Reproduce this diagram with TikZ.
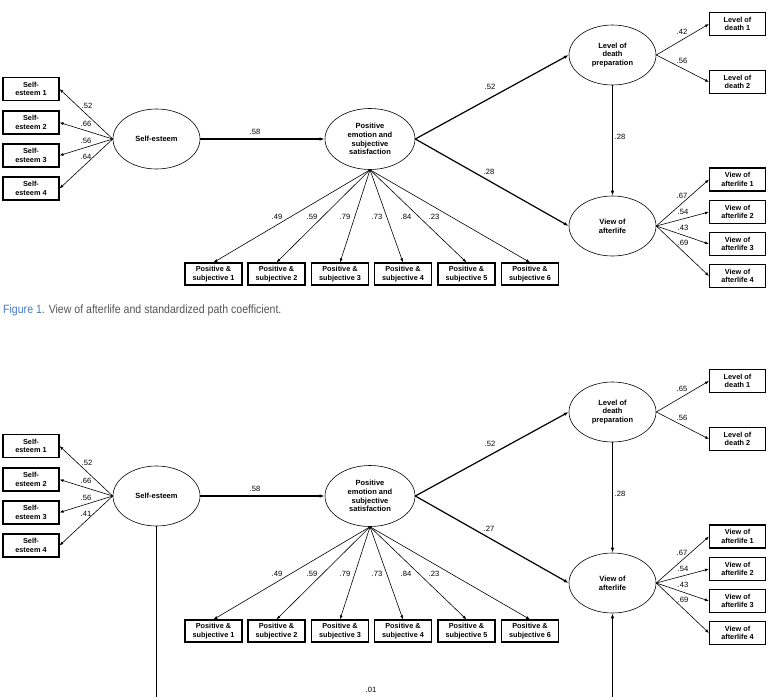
\documentclass[tikz,border=0pt]{standalone}
\usepackage{fontspec}
\setmainfont{Liberation Sans}
\usetikzlibrary{shapes.geometric,arrows.meta}
\definecolor{capblue}{HTML}{4A7DC4}
\definecolor{capgray}{HTML}{555555}
\tikzset{
 obs/.style={draw, line width=1.1pt, minimum width=56pt, minimum height=23pt, inner sep=0pt, align=center, font=\fontsize{7.3}{8.3}\selectfont\bfseries},
 lat/.style={draw, ellipse, line width=0.6pt, minimum width=87pt, minimum height=60pt, inner sep=0pt, align=center, font=\fontsize{7.5}{8.7}\selectfont\bfseries},
 thinarr/.style={-{Latex[length=4pt,width=3pt]}, line width=0.6pt},
 thickarr/.style={-{Latex[length=5pt,width=3.5pt]}, line width=1.2pt},
 thickline/.style={line width=1.2pt},
 coef/.style={font=\fontsize{7.6}{8.6}\selectfont, inner sep=0pt},
}
\newcommand\semfig[5]{%
\begin{scope}[shift={(0,#2)}]
 % latent variables
 \node[lat] (#1se) at (156.5,139) {Self-esteem};
 \node[lat, minimum width=90pt, minimum height=61pt] (#1pes) at (370,139) {Positive\\emotion and\\subjective\\satisfaction};
 \node[lat] (#1ldp) at (612.5,55) {Level of\\death\\preparation};
 \node[lat] (#1va) at (612.5,226) {View of\\afterlife};
 % self-esteem indicators
 \node[obs] (#1s1) at (31,89) {Self-\\esteem 1};
 \node[obs] (#1s2) at (31,122.5) {Self-\\esteem 2};
 \node[obs] (#1s3) at (31,155.5) {Self-\\esteem 3};
 \node[obs] (#1s4) at (31,188.5) {Self-\\esteem 4};
 % death indicators
 \node[obs] (#1d1) at (737.5,24) {Level of\\death 1};
 \node[obs] (#1d2) at (737.5,82) {Level of\\death 2};
 % afterlife indicators
 \node[obs] (#1v1) at (737.5,179.5) {View of\\afterlife 1};
 \node[obs] (#1v2) at (737.5,212) {View of\\afterlife 2};
 \node[obs] (#1v3) at (737.5,244) {View of\\afterlife 3};
 \node[obs] (#1v4) at (737.5,276) {View of\\afterlife 4};
 % positive indicators
 \node[obs, minimum width=57pt, minimum height=22pt] (#1p1) at (213.5,274) {Positive \&\\subjective 1};
 \node[obs, minimum width=57pt, minimum height=22pt] (#1p2) at (276.5,274) {Positive \&\\subjective 2};
 \node[obs, minimum width=57pt, minimum height=22pt] (#1p3) at (340,274) {Positive \&\\subjective 3};
 \node[obs, minimum width=57pt, minimum height=22pt] (#1p4) at (403,274) {Positive \&\\subjective 4};
 \node[obs, minimum width=57pt, minimum height=22pt] (#1p5) at (466.5,274) {Positive \&\\subjective 5};
 \node[obs, minimum width=57pt, minimum height=22pt] (#1p6) at (530,274) {Positive \&\\subjective 6};
 % connectors
 \foreach \i in {1,2,3,4} \draw[thinarr] (#1se.west) -- (#1s\i.east);
 \foreach \i in {1,2,3,4,5,6} \draw[thinarr] (#1pes.south) -- (#1p\i.north);
 \foreach \i in {1,2} \draw[thinarr] (#1ldp.east) -- (#1d\i.west);
 \foreach \i in {1,2,3,4} \draw[thinarr] (#1va.east) -- (#1v\i.west);
 \draw[thickarr] (#1se.east) -- (#1pes.west);
 \draw[thickarr] (#1pes.east) -- (#1ldp.west);
 \draw[thickarr] (#1pes.east) -- (#1va.west);
 \draw[thickarr] (#1ldp.south) -- (#1va.north);
 % coefficients
 \node[coef] (#1c1) at (87,106) {.52};
 \node[coef] (#1c2) at (86,124) {.66};
 \node[coef] (#1c3) at (86,141) {.56};
 \node[coef] (#1c4) at (86,157) {#3};
 \node[coef] (#1c5) at (255,132) {.58};
 \node[coef] (#1c6) at (490,87) {.52};
 \node[coef] (#1c7) at (489,172) {#5};
 \node[coef] (#1c8) at (620,137) {.28};
 \node[coef] (#1c9) at (682,32) {#4};
 \node[coef] (#1c10) at (682,61) {.56};
 \node[coef] (#1c11) at (682,196) {.67};
 \node[coef] (#1c12) at (683,212) {.54};
 \node[coef] (#1c13) at (683,228) {.43};
 \node[coef] (#1c14) at (683,243) {.69};
 \node[coef] (#1c15) at (277,217) {.49};
 \node[coef] (#1c16) at (312,217) {.59};
 \node[coef] (#1c17) at (345,217) {.79};
 \node[coef] (#1c18) at (377,217) {.73};
 \node[coef] (#1c19) at (406,217) {.84};
 \node[coef] (#1c20) at (434,217) {.23};
\end{scope}}
\begin{document}
\begin{tikzpicture}[x=1pt,y=-1pt]
\useasboundingbox[fill=white] (0,0) rectangle (776,696);
\semfig{A}{0}{.64}{.42}{.28}
\node[anchor=base west, inner sep=0pt] (cap) at (3,313) {\scalebox{0.88}[1]{\fontsize{12}{14}\selectfont\textcolor{capblue}{Figure 1}\textcolor{capgray}{. View of afterlife and standardized path coefficient.}}};
\semfig{B}{357}{.41}{.65}{.27}
\coordinate (bl) at (156.5,697);
\coordinate (br) at (612.5,697);
\draw[thickline] (Bse.south) -- (bl);
\draw[thickarr] (br) -- (Bva.south);
\node[coef] (c01) at (371,690) {.01};
\end{tikzpicture}
\end{document}
